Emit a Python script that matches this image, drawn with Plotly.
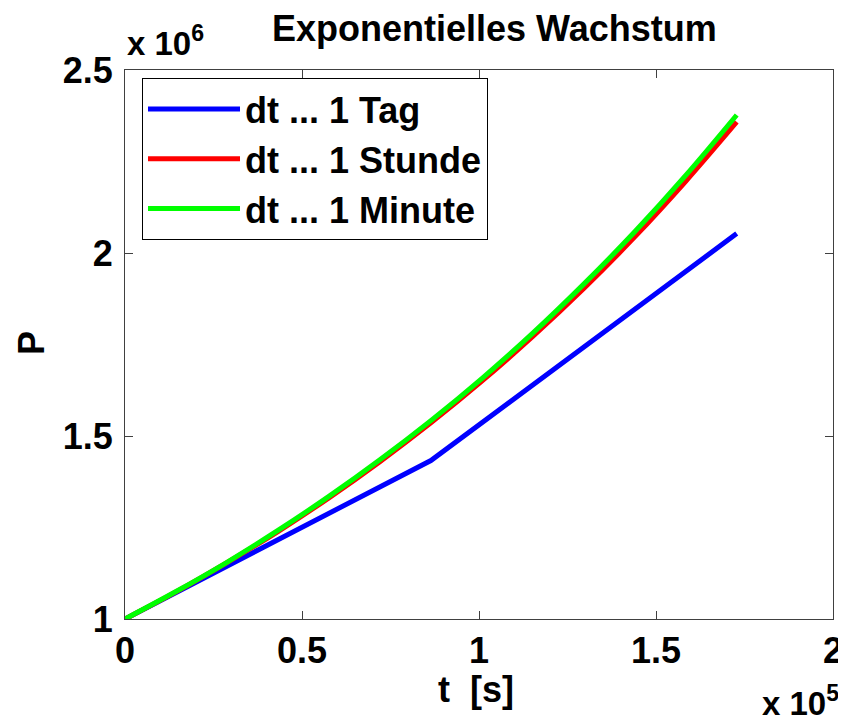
import plotly.graph_objects as go

# time in seconds
t_day = [0, 86400, 172800]
p_day = [1.000e6, 1.433e6, 2.053e6]

t_hour = [0, 14400, 28800, 43200, 57600, 72000, 86400, 100800, 115200, 129600, 144000, 158400, 172800]
p_hour = [1.000e6, 1.074e6, 1.154e6, 1.239e6, 1.331e6, 1.430e6, 1.536e6, 1.650e6, 1.772e6, 1.903e6, 2.044e6, 2.196e6, 2.358e6]

t_min = [0, 14400, 28800, 43200, 57600, 72000, 86400, 100800, 115200, 129600, 144000, 158400, 172800]
p_min = [1.000e6, 1.075e6, 1.155e6, 1.242e6, 1.335e6, 1.435e6, 1.542e6, 1.657e6, 1.781e6, 1.915e6, 2.058e6, 2.212e6, 2.377e6]

names = ["dt ... 1 Tag", "dt ... 1 Stunde", "dt ... 1 Minute"]
colors = ["#0000FF", "#FF0000", "#00FF00"]

x_ticks = [0, 50000, 100000, 150000, 200000]
x_ticktext = ["0", "0.5", "1", "1.5", "2"]
y_ticks = [1.0e6, 1.5e6, 2.0e6, 2.5e6]
y_ticktext = ["1", "1.5", "2", "2.5"]

FONT = "Liberation Sans, Arial, Helvetica, sans-serif"

fig = go.Figure()
fig.add_trace(go.Scatter(x=t_day, y=p_day, mode="lines", name=names[0],
                         line=dict(color=colors[0], width=5)))
fig.add_trace(go.Scatter(x=t_hour, y=p_hour, mode="lines", name=names[1],
                         line=dict(color=colors[1], width=5, shape="spline")))
fig.add_trace(go.Scatter(x=t_min, y=p_min, mode="lines", name=names[2],
                         line=dict(color=colors[2], width=5, shape="spline")))

axis_common = dict(showgrid=False, zeroline=False, showline=True, linecolor="#404040",
                   linewidth=1, mirror="ticks", ticks="inside", ticklen=8,
                   tickcolor="#404040", tickwidth=1, automargin=False,
                   tickfont=dict(family=FONT, size=36, color="black", weight="bold"))

# page body adds an 8px margin, so the figure is 8px smaller than the window
fig.update_layout(
    width=838, height=715,
    margin=dict(l=117, r=13, t=62, b=104),
    paper_bgcolor="white", plot_bgcolor="white",
    font=dict(family=FONT, color="black"),
    xaxis=dict(range=[0, 200000], tickvals=x_ticks, ticktext=x_ticktext, **axis_common),
    yaxis=dict(range=[1.0e6, 2.5e6], tickvals=y_ticks, ticktext=y_ticktext,
               ticklabelstandoff=4, **axis_common),
    legend=dict(x=(142 - 125) / 708, y=1 - (78 - 70) / 549, xanchor="left", yanchor="top",
                bgcolor="white", bordercolor="black", borderwidth=1,
                font=dict(family=FONT, size=36, color="black", weight="bold"),
                itemwidth=92, tracegroupgap=0),
    showlegend=True,
)

# title
fig.add_annotation(text="<b>Exponentielles Wachstum</b>", xref="paper", yref="paper",
                   x=(494 - 125) / 708, xanchor="center", y=1, yanchor="middle", yshift=42,
                   showarrow=False, font=dict(family=FONT, size=36, color="black"))
# axis titles
fig.add_annotation(text="<b>t  [s]</b>", xref="paper", yref="paper",
                   x=(476 - 125) / 708, xanchor="center", y=0, yanchor="middle", yshift=-70,
                   showarrow=False, font=dict(family=FONT, size=36, color="black"))
fig.add_annotation(text="<b>P</b>", xref="paper", yref="paper", textangle=-90,
                   x=0, xanchor="center", xshift=-94, y=(619 - 343) / 549, yanchor="middle",
                   showarrow=False, font=dict(family=FONT, size=36, color="black"))
# exponent labels
fig.add_annotation(text="<b>x 10<sup>6</sup></b>", xref="paper", yref="paper",
                   x=0.0, xanchor="left", y=1.0, yanchor="bottom", yshift=6,
                   showarrow=False, font=dict(family=FONT, size=33, color="black"))
fig.add_annotation(text="<b>x 10<sup>5</sup></b>", xref="paper", yref="paper",
                   x=1.0, xanchor="right", y=0, yanchor="bottom", yshift=-105, xshift=8,
                   showarrow=False, font=dict(family=FONT, size=33, color="black"))

fig.write_html("out.html")
